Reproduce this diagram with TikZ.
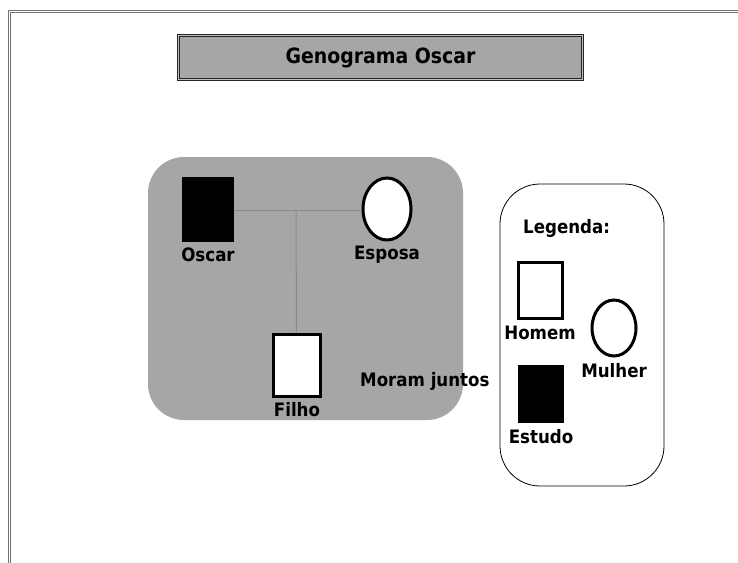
\documentclass[tikz,border=0pt]{standalone}
\usepackage{fontspec}
\setmainfont{DejaVu Sans Condensed}
\usetikzlibrary{shapes.geometric}
\definecolor{boxgray}{HTML}{A6A6A6}
\definecolor{linegray}{HTML}{8A8A8A}
\tikzset{
  lbl/.style={font=\bfseries\fontsize{18.5}{20}\selectfont, inner sep=0pt},
  sq/.style={draw=black, line width=3pt, fill=white, minimum width=#1, inner sep=0pt},
  ov/.style={ellipse, draw=black, line width=3pt, fill=white, inner sep=0pt},
  rel/.style={draw=linegray, line width=1pt}
}
\begin{document}
\begin{tikzpicture}[x=1pt,y=-1pt]
\useasboundingbox (0,0) rectangle (738,562);
\clip (0,0) rectangle (738,562);
\fill[white] (0,0) rectangle (738,562);
% outer frame
\draw[double=white, draw=black!55, line width=1.1pt, double distance=1.1pt] (9.5,11.5) rectangle (800,620);
% title
\node[draw=black!85, double=black!25, double distance=1.4pt, line width=1.1pt, fill=boxgray, minimum width=404pt, minimum height=44pt, lbl, font=\bfseries\fontsize{21}{23}\selectfont] (title) at (380.5,57.5) {Genograma Oscar};
% household
\fill[boxgray, rounded corners=36pt] (148,157) rectangle (463,420);
\node[fill=black, minimum width=52pt, minimum height=65pt, inner sep=0pt] (oscar) at (208,209.5) {};
\node[ov, minimum width=48pt, minimum height=62pt] (esposa) at (387,209) {};
\node[sq, minimum width=47pt, minimum height=62pt] (filho) at (296.5,365) {};
\coordinate (mid) at (296,210);
\draw[rel] (oscar.east |- mid) -- (esposa.west |- mid);
\draw[rel] (mid) -- (filho.north);
\node[lbl] (loscar) at (208,255) {Oscar};
\node[lbl] (lesposa) at (387,255) {Esposa};
\node[lbl] (lfilho) at (297,410) {Filho};
\node[lbl, anchor=west] (moram) at (360,381) {Moram juntos};
% legend
\draw[black, line width=0.8pt, rounded corners=40pt] (500,184) rectangle (664,486);
\node[lbl, anchor=west] (legenda) at (523,228) {Legenda:};
\node[sq, minimum width=44pt, minimum height=56pt] (homem) at (540,290) {};
\node[lbl] (lhomem) at (540,333) {Homem};
\node[ov, minimum width=44pt, minimum height=56pt] (mulher) at (614,328) {};
\node[lbl] (lmulher) at (614,371) {Mulher};
\node[fill=black, minimum width=46pt, minimum height=58pt, inner sep=0pt] (estudo) at (541,394) {};
\node[lbl] (lestudo) at (541,437) {Estudo};
\end{tikzpicture}
\end{document}
